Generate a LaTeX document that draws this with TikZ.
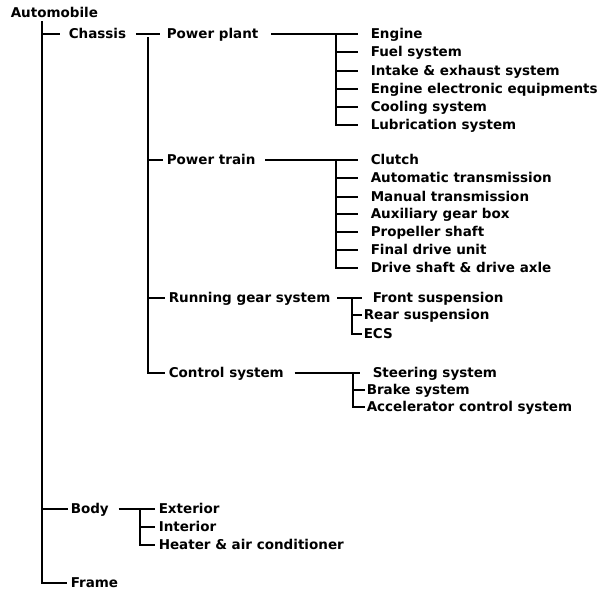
\documentclass[tikz,border=0pt]{standalone}
\usepackage{fontspec}
\setmainfont{DejaVu Sans}
\begin{document}
\begin{tikzpicture}[x=1pt,y=-1pt,line width=1.5pt,
  lbl/.style={anchor=west,inner sep=0pt,text height=9.5pt,text depth=0pt,
    font=\fontsize{13.5}{14}\selectfont\bfseries}]
\useasboundingbox (0,0) rectangle (607,592);
% level 0/1
\node[lbl] (auto) at (10,13) {Automobile};
\node[lbl] (chassis) at (68,34) {Chassis};
\node[lbl] (body) at (70,509) {Body};
\node[lbl] (frame) at (70,583) {Frame};
\coordinate (trunk) at (42,21);
\draw (trunk) |- ([xshift=-3pt]frame.west);
\draw (trunk |- chassis) -- ([xshift=-8pt]chassis.west);
\draw (trunk |- body) -- ([xshift=-2pt]body.west);
% chassis level
\node[lbl] (pp) at (166,34) {Power plant};
\node[lbl] (pt) at (166,160) {Power train};
\node[lbl] (rg) at (168,298) {Running gear system};
\node[lbl] (cs) at (168,373) {Control system};
\coordinate (cv) at (148,37);
\draw[shorten <=9pt,shorten >=6pt] (chassis.east) -- (pp.west);
\draw (cv) |- ([xshift=-3pt]cs.west);
\draw (cv |- pt) -- ([xshift=-3pt]pt.west);
\draw (cv |- rg) -- ([xshift=-3pt]rg.west);
% power plant
\node[lbl] (e1) at (370,34) {Engine};
\node[lbl] (e2) at (370,52) {Fuel system};
\node[lbl] (e3) at (370,71) {Intake \& exhaust system};
\node[lbl] (e4) at (370,89) {Engine electronic equipments};
\node[lbl] (e5) at (370,107) {Cooling system};
\node[lbl] (e6) at (370,125) {Lubrication system};
\coordinate (ppv) at (336,34);
\draw[shorten <=12pt,shorten >=12pt] (pp.east) -- (e1.west);
\draw (ppv) |- ([xshift=-12pt]e6.west);
\foreach \n in {e2,e3,e4,e5} \draw (ppv |- \n) -- ([xshift=-12pt]\n.west);
% power train
\node[lbl] (t1) at (370,160) {Clutch};
\node[lbl] (t2) at (370,178) {Automatic transmission};
\node[lbl] (t3) at (370,197) {Manual transmission};
\node[lbl] (t4) at (370,214) {Auxiliary gear box};
\node[lbl] (t5) at (370,232) {Propeller shaft};
\node[lbl] (t6) at (370,250) {Final drive unit};
\node[lbl] (t7) at (370,268) {Drive shaft \& drive axle};
\coordinate (ptv) at (336,160);
\draw[shorten <=9pt,shorten >=12pt] (pt.east) -- (t1.west);
\draw (ptv) |- ([xshift=-12pt]t7.west);
\foreach \n in {t2,t3,t4,t5,t6} \draw (ptv |- \n) -- ([xshift=-12pt]\n.west);
% running gear
\node[lbl] (r1) at (372,298) {Front suspension};
\node[lbl] (r2) at (363,315) {Rear suspension};
\node[lbl] (r3) at (363,334) {ECS};
\coordinate (rgv) at (352,298);
\draw[shorten <=6pt,shorten >=10pt] (rg.east) -- (r1.west);
\draw (rgv) |- ([xshift=-1pt]r3.west);
\draw (rgv |- r2) -- ([xshift=-1pt]r2.west);
% control system
\node[lbl] (s1) at (372,373) {Steering system};
\node[lbl] (s2) at (366,390) {Brake system};
\node[lbl] (s3) at (366,407) {Accelerator control system};
\coordinate (csv) at (353,373);
\draw[shorten <=10pt,shorten >=12pt] (cs.east) -- (s1.west);
\draw (csv) |- ([xshift=-1pt]s3.west);
\draw (csv |- s2) -- ([xshift=-1pt]s2.west);
% body
\node[lbl] (b1) at (158,509) {Exterior};
\node[lbl] (b2) at (158,527) {Interior};
\node[lbl] (b3) at (158,545) {Heater \& air conditioner};
\coordinate (bv) at (140,509);
\draw[shorten <=9pt,shorten >=3pt] (body.east) -- (b1.west);
\draw (bv) |- ([xshift=-3pt]b3.west);
\draw (bv |- b2) -- ([xshift=-3pt]b2.west);
\end{tikzpicture}
\end{document}
